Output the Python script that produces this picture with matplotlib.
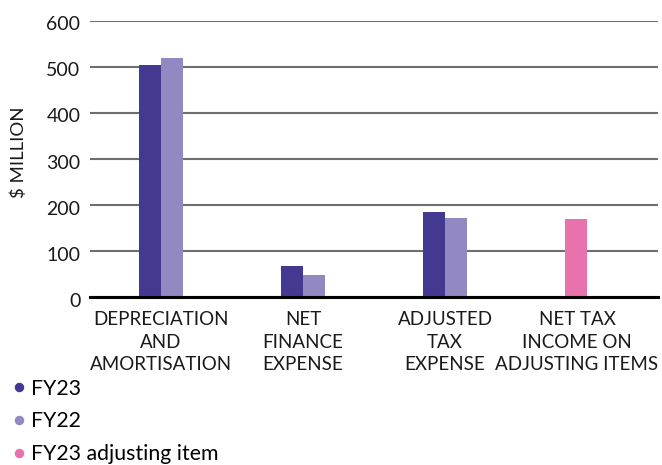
import matplotlib
matplotlib.use("Agg")
import matplotlib.pyplot as plt
from matplotlib.lines import Line2D
from matplotlib.transforms import ScaledTranslation
import numpy as np

plt.rcParams['font.family'] = ['Lato', 'DejaVu Sans']

categories = ["DEPRECIATION\nAND\nAMORTISATION", "NET\nFINANCE\nEXPENSE",
              "ADJUSTED\nTAX\nEXPENSE", "NET TAX\nINCOME ON\nADJUSTING ITEMS"]
fy23 = [504, 67, 184, None]
fy22 = [520, 49, 171, None]
fy23_adj = [None, None, None, 169]
yticks = [0, 100, 200, 300, 400, 500, 600]

c23 = "#433991"
c22 = "#9288C2"
cadj = "#E872AB"
txt = "#1a1a1a"

fig = plt.figure(figsize=(6.62, 4.65), dpi=100)
ax = fig.add_axes([0.136, 0.361, 0.858, 0.594])

x = np.arange(len(categories))
w = 0.155
for i in range(len(categories)):
    if fy23[i] is not None:
        ax.bar(x[i] - w / 2, fy23[i], w, color=c23, zorder=3)
    if fy22[i] is not None:
        ax.bar(x[i] + w / 2, fy22[i], w, color=c22, zorder=3)
    if fy23_adj[i] is not None:
        ax.bar(x[i] - w / 2, fy23_adj[i], w, color=cadj, zorder=3)

ax.set_xlim(-0.5, len(categories) - 0.5)
ax.set_ylim(0, 600)
ax.set_yticks(yticks)
ax.set_yticklabels([str(v) for v in yticks], fontsize=14, color=txt)
ax.set_xticks(x)
ax.set_xticklabels(categories, fontsize=13.5, color=txt, linespacing=1.4)
ax.tick_params(axis='y', length=0, pad=7)
ax.tick_params(axis='x', length=0, pad=10)

# small offsets to mimic reference text placement
for lbl in ax.get_yticklabels():
    lbl.set_transform(lbl.get_transform() + ScaledTranslation(0, -2.5 / 100, fig.dpi_scale_trans))
last = ax.get_xticklabels()[-1]
last.set_transform(last.get_transform() + ScaledTranslation(-10 / 100, 0, fig.dpi_scale_trans))

for s in ["top", "right", "left"]:
    ax.spines[s].set_visible(False)
ax.spines["bottom"].set_color("black")
ax.spines["bottom"].set_linewidth(2.2)
ax.spines["bottom"].set_zorder(4)
ax.yaxis.grid(True, color="#6e6e6e", linewidth=1.5, zorder=0)
ax.set_axisbelow(True)
ax.set_ylabel("$ MILLION", fontsize=13.3, color=txt)
ax.yaxis.set_label_coords(-0.111, 0.524)

handles = [Line2D([], [], marker='o', linestyle='', markersize=5.8, color=c)
           for c in (c23, c22, cadj)]
fig.legend(handles, ["FY23", "FY22", "FY23 adjusting item"], loc="upper left",
           bbox_to_anchor=(0.016, 0.186), frameon=False, fontsize=15.3,
           handletextpad=0.17, labelspacing=0.6, handlelength=0.8,
           borderaxespad=0, borderpad=0)

fig.savefig("out.png", dpi=100)
